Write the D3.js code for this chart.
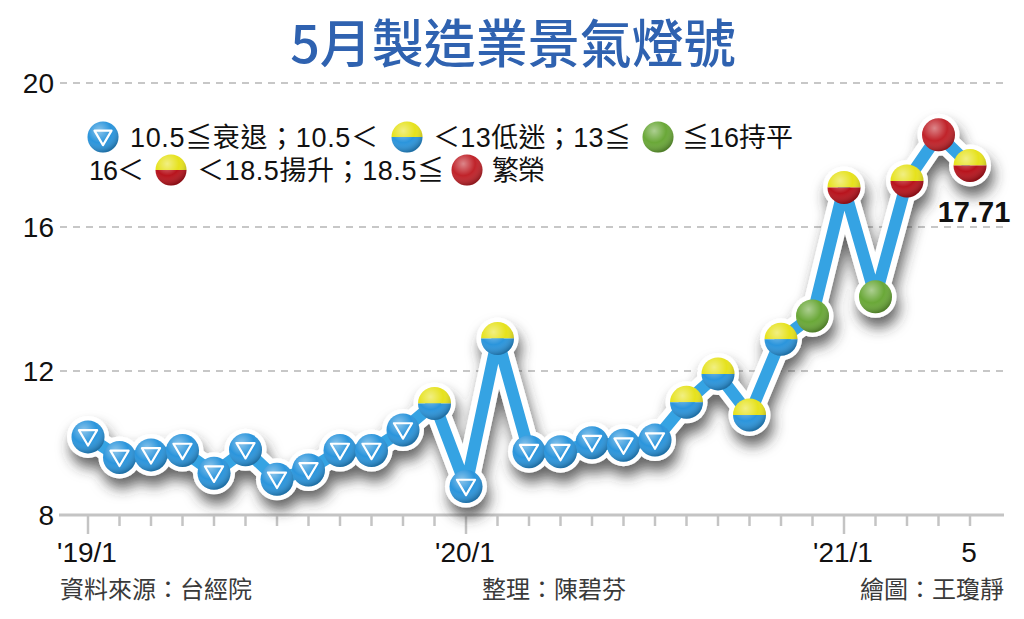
<!DOCTYPE html>
<html>
<head>
<meta charset="utf-8">
<script src="https://cdn.jsdelivr.net/npm/d3@7"></script>
<style>
  body { margin: 0; background: #fff; }
  svg { display: block; }
  .cjk { font-family: "Noto Sans CJK TC", "Noto Sans", sans-serif; }
  .num { font-family: "Liberation Sans", Arial, sans-serif; }
  .leg { font-family: "Liberation Sans", "Noto Sans CJK TC", sans-serif; }
</style>
</head>
<body>
<svg id="chart" width="1024" height="619"></svg>
<script>
// data
const months = ["2019-01","2019-02","2019-03","2019-04","2019-05","2019-06","2019-07","2019-08","2019-09","2019-10","2019-11","2019-12",
                "2020-01","2020-02","2020-03","2020-04","2020-05","2020-06","2020-07","2020-08","2020-09","2020-10","2020-11","2020-12",
                "2021-01","2021-02","2021-03","2021-04","2021-05"];
const values = [10.17, 9.60, 9.67, 9.79, 9.16, 9.81, 8.99, 9.25, 9.79, 9.79, 10.36, 11.10,
                8.79, 12.90, 9.76, 9.76, 10.01, 9.94, 10.08, 11.13, 11.92, 10.78, 12.88, 13.53,
                17.10, 14.06, 17.28, 18.56, 17.71];
const yTicks = [8, 12, 16, 20];
const xLabelIdx = [0, 12, 24, 28];
const xLabels = ["'19/1", "'20/1", "'21/1", "5"];
const majorIdx = [0, 12, 24];
const thresholds = [10.5, 13, 16, 18.5];

const title = "5月製造業景氣燈號";
const footer = ["資料來源：台經院", "整理：陳碧芬", "繪圖：王瓊靜"];

const svg = d3.select("#chart");
const x = d3.scaleLinear().domain([0, months.length - 1]).range([88, 970]);
const y = d3.scaleLinear().domain([8, 20]).range([515, 83]);

// light level from the score
function level(v) {
    if (v <= thresholds[0]) return "blue";
    if (v < thresholds[1]) return "yb";
    if (v <= thresholds[2]) return "green";
    if (v < thresholds[3]) return "yr";
    return "red";
}

const defs = svg.append("defs");
const shadow = defs.append("filter").attr("id", "shadow")
    .attr("x", "-10%").attr("y", "-20%").attr("width", "120%").attr("height", "160%");
shadow.append("feDropShadow").attr("dx", 3).attr("dy", 10).attr("stdDeviation", 7)
    .attr("flood-color", "#333").attr("flood-opacity", 0.75);

const gloss = defs.append("radialGradient").attr("id", "gloss")
    .attr("cx", "38%").attr("cy", "30%").attr("r", "70%");
gloss.append("stop").attr("offset", "0%").attr("stop-color", "#fff").attr("stop-opacity", 0.45);
gloss.append("stop").attr("offset", "55%").attr("stop-color", "#fff").attr("stop-opacity", 0);
gloss.append("stop").attr("offset", "100%").attr("stop-color", "#000").attr("stop-opacity", 0.25);

const colors = { blue: "#2b95dc", yellow: "#e6e21c", red: "#b8141d", green: "#6aa838", deepRed: "#c0232a" };

function drawMarker(g, type, r) {
    const top = `M${-r},0 A${r},${r} 0 0 1 ${r},0 Z`;
    const bottom = `M${-r},0 A${r},${r} 0 0 0 ${r},0 Z`;
    if (type === "blue") {
        g.append("circle").attr("r", r).attr("fill", colors.blue);
    } else if (type === "green") {
        g.append("circle").attr("r", r).attr("fill", colors.green);
    } else if (type === "red") {
        g.append("circle").attr("r", r).attr("fill", colors.deepRed);
    } else {
        g.append("path").attr("d", top).attr("fill", colors.yellow);
        g.append("path").attr("d", bottom).attr("fill", type === "yb" ? colors.blue : colors.red);
    }
    g.append("circle").attr("r", r).attr("fill", "url(#gloss)");
    if (type === "blue") {
        const a = r * 0.55;
        g.append("path")
            .attr("d", `M${-a},${-a * 0.75} L${a},${-a * 0.75} L0,${a * 0.95} Z`)
            .attr("fill", "none").attr("stroke", "#fff").attr("stroke-width", 2.2)
            .attr("stroke-linejoin", "round");
    }
}

// title
svg.append("text").attr("class", "cjk")
    .attr("x", 513).attr("y", 63).attr("text-anchor", "middle")
    .attr("font-size", 52).attr("font-weight", 500).attr("fill", "#2f62b0")
    .text(title);

// grid lines
svg.append("g").selectAll("line")
    .data(yTicks.filter(d => d > 8))
    .join("line")
    .attr("x1", 60).attr("x2", 1006)
    .attr("y1", d => y(d)).attr("y2", d => y(d))
    .attr("stroke", "#b5b5b5").attr("stroke-width", 1.5)
    .attr("stroke-dasharray", "7,6");

// y labels
svg.append("g").selectAll("text")
    .data(yTicks)
    .join("text").attr("class", "num")
    .attr("x", 54).attr("y", d => y(d) + 10)
    .attr("text-anchor", "end").attr("font-size", 28).attr("fill", "#111")
    .text(d => d);

// x axis
svg.append("line")
    .attr("x1", 59).attr("x2", 1004).attr("y1", y(8)).attr("y2", y(8))
    .attr("stroke", "#c4c4c4").attr("stroke-width", 3);
svg.append("g").selectAll("line")
    .data(d3.range(months.length))
    .join("line")
    .attr("x1", d => x(d)).attr("x2", d => x(d))
    .attr("y1", y(8)).attr("y2", d => y(8) + (majorIdx.includes(d) ? 19 : 11))
    .attr("stroke", "#c4c4c4").attr("stroke-width", 2.5);
svg.append("g").selectAll("text")
    .data(xLabelIdx)
    .join("text").attr("class", "num")
    .attr("x", d => x(d) - 1).attr("y", 562)
    .attr("text-anchor", "middle").attr("font-size", 28).attr("fill", "#111")
    .text((d, i) => xLabels[i]);

// footer
const footX = [60, 482, 1004];
const footAnchor = ["start", "start", "end"];
svg.append("g").selectAll("text")
    .data(footer)
    .join("text").attr("class", "cjk")
    .attr("x", (d, i) => footX[i]).attr("y", 598)
    .attr("text-anchor", (d, i) => footAnchor[i])
    .attr("font-size", 24).attr("fill", "#3a3a3a")
    .text(d => d);

// line with white outline and shadow
const pts = values.map((v, i) => [x(i), y(v)]);
const line = d3.line();
const back = svg.append("g").attr("filter", "url(#shadow)");
back.append("path").attr("d", line(pts))
    .attr("fill", "none").attr("stroke", "#fff").attr("stroke-width", 24)
    .attr("stroke-linejoin", "round");
back.selectAll("circle").data(pts).join("circle")
    .attr("cx", d => d[0]).attr("cy", d => d[1]).attr("r", 21).attr("fill", "#fff");
svg.append("path").attr("d", line(pts))
    .attr("fill", "none").attr("stroke", "#35a3e3").attr("stroke-width", 12)
    .attr("stroke-linejoin", "round");

svg.append("g").selectAll("g")
    .data(values)
    .join("g")
    .attr("transform", (d, i) => `translate(${x(i)},${y(d)})`)
    .each(function (d) { drawMarker(d3.select(this), level(d), 16.5); });

// last value label
svg.append("text").attr("class", "num")
    .attr("x", x(values.length - 1) + 4).attr("y", 222)
    .attr("text-anchor", "middle").attr("font-size", 29).attr("font-weight", 700)
    .attr("fill", "#111")
    .text(values[values.length - 1].toFixed(2));

// legend: icons and text runs placed as in the picture
const legendRows = [
    { y: 137, items: [{ m: "blue", x: 103 }, { t: "10.5≦衰退；10.5＜", x: 130, w: 248 }, { m: "yb", x: 407 },
                      { t: "＜13低迷；13≦", x: 433, w: 198 }, { m: "green", x: 658 }, { t: "≦16持平", x: 682, w: 111 }] },
    { y: 170, items: [{ t: "16＜", x: 89, w: 55 }, { m: "yr", x: 171 }, { t: "＜18.5揚升；18.5≦", x: 197, w: 247 },
                      { m: "red", x: 467 }, { t: "繁榮", x: 492, w: 53 }] }
];
legendRows.forEach(row => {
    const g = svg.append("g");
    row.items.forEach(it => {
        if (it.m) {
            drawMarker(g.append("g").attr("transform", `translate(${it.x},${row.y})`), it.m, 15.5);
        } else {
            g.append("text").attr("class", "leg")
                .attr("x", it.x).attr("y", row.y + 10)
                .attr("font-size", 27).attr("fill", "#111")
                .attr("textLength", it.w).attr("lengthAdjust", "spacing")
                .text(it.t);
        }
    });
});
</script>
</body>
</html>
